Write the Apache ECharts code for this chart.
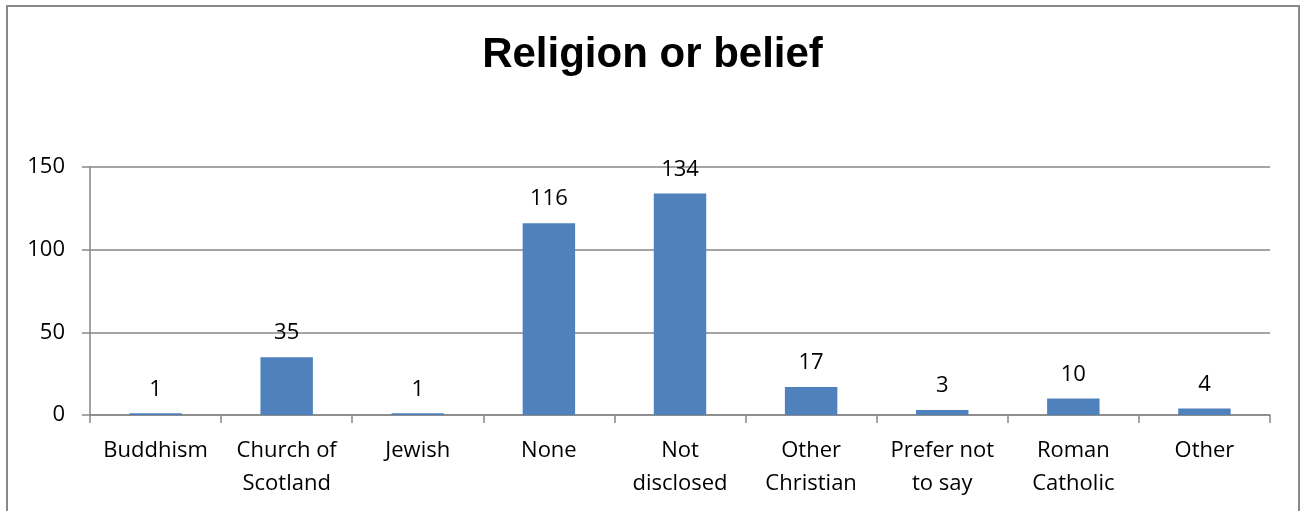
<!DOCTYPE html>
<html><head><meta charset="utf-8">
<script src="https://cdn.jsdelivr.net/npm/echarts@6/dist/echarts.min.js"></script>
<style>html,body{margin:0;padding:0;background:#fff}#c{width:1305px;height:511px}</style>
</head><body><div id="c"></div>
<script>
const categories = ["Buddhism","Church of\nScotland","Jewish","None","Not\ndisclosed","Other\nChristian","Prefer not\nto say","Roman\nCatholic","Other"];
const values = [1,35,1,116,134,17,3,10,4];
const yTicks = {min:0,max:150,interval:50};
const FONT = "'Open Sans', sans-serif";
const chart = echarts.init(document.getElementById('c'));
chart.setOption({
  animation:false,
  title:{text:"Religion or belief",left:'center',top:29,textStyle:{fontFamily:"'Liberation Sans', Arial, sans-serif",fontWeight:'bold',fontSize:42,color:'#000'}},
  graphic:[{type:'rect',shape:{x:7,y:6,width:1292,height:540},style:{fill:'none',stroke:'#898989',lineWidth:2},silent:true}],
  grid:{left:90,right:35,top:167,bottom:96},
  xAxis:{type:'category',data:categories,
    axisLine:{lineStyle:{color:'#868686',width:1.5}},
    axisTick:{show:true,length:8,interval:0,lineStyle:{color:'#868686',width:1.5}},
    axisLabel:{interval:0,color:'#000',fontFamily:FONT,fontSize:22,lineHeight:33,margin:19}},
  yAxis:{type:'value',min:yTicks.min,max:yTicks.max,interval:yTicks.interval,
    axisLine:{show:true,lineStyle:{color:'#868686',width:1.5}},
    axisTick:{show:true,length:8,lineStyle:{color:'#868686',width:1.5}},
    splitLine:{lineStyle:{color:'#868686',width:1.5}},
    axisLabel:{color:'#000',fontFamily:FONT,fontSize:22,margin:25}},
  series:[{type:'bar',data:values,barCategoryGap:'60%',
    itemStyle:{color:'#4F81BD'},
    label:{show:true,position:'top',distance:13,color:'#000',fontFamily:FONT,fontSize:22}}]
});
</script></body></html>
